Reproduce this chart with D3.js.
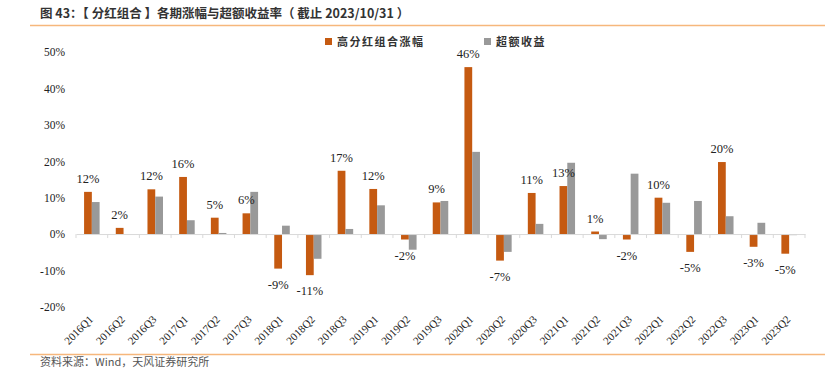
<!DOCTYPE html>
<html><head><meta charset="utf-8">
<script src="https://cdn.jsdelivr.net/npm/d3@7"></script>
<style>
html,body{margin:0;padding:0;background:#fff;}
svg{display:block;}
</style></head>
<body>
<svg id="chart" width="825" height="369"></svg>
<script>
const categories = ["2016Q1","2016Q2","2016Q3","2017Q1","2017Q2","2017Q3","2018Q1","2018Q2","2018Q3","2019Q1","2019Q2","2019Q3","2020Q1","2020Q2","2020Q3","2021Q1","2021Q2","2021Q3","2022Q1","2022Q2","2022Q3","2023Q1","2023Q2"];
const seriesNames = ["高分红组合涨幅","超额收益"];
const dividendReturn = [11.6,1.7,12.3,15.7,4.5,5.7,-9.5,-11.3,17.4,12.4,-1.5,8.7,45.9,-7.3,11.3,13.2,0.7,-1.5,10.0,-4.9,19.8,-3.5,-5.4];
const excessReturn = [8.8,0.0,10.3,3.8,0.3,11.6,2.3,-6.8,1.4,7.9,-4.3,9.1,22.6,-4.9,2.8,19.6,-1.4,16.6,8.6,9.1,4.9,3.1,-0.3];
const valueLabels = ["12%","2%","12%","16%","5%","6%","-9%","-11%","17%","12%","-2%","9%","46%","-7%","11%","13%","1%","-2%","10%","-5%","20%","-3%","-5%"];
const yTicks = [-20,-10,0,10,20,30,40,50];
const colors = ["#c55a11","#999999"];
const titleText = "图 43：【 分红组合 】各期涨幅与超额收益率（ 截止 2023/10/31 ）";
const sourceText = "资料来源：Wind，天风证券研究所";

const svg = d3.select("#chart");
const serif = "'Liberation Serif','Times New Roman',serif";
const cjk = "'Noto Sans CJK SC','Noto Sans',sans-serif";

// Title and rules
svg.append("text").attr("x",40).attr("y",18).attr("font-family",cjk).attr("font-weight","bold")
  .attr("font-size",12.5).attr("fill","#333").text(titleText);
svg.append("line").attr("x1",30).attr("x2",825).attr("y1",25.5).attr("y2",25.5).attr("stroke","#f6b77c").attr("stroke-width",1.3);
svg.append("line").attr("x1",30).attr("x2",825).attr("y1",354.5).attr("y2",354.5).attr("stroke","#f6b77c").attr("stroke-width",1.3);
svg.append("text").attr("x",40).attr("y",366).attr("font-family",cjk).attr("font-size",11).attr("fill","#555").text(sourceText);

// Scales
const x = d3.scaleBand().domain(categories).range([76,805]).padding(0);
const y = d3.scaleLinear().domain([-20,50]).range([306.8,52.2]);
const bw = x.bandwidth()*0.245;
const x1 = d3.scaleBand().domain(seriesNames).range([-bw, bw]);

// Y axis labels
const yAxis = d3.axisLeft(y).tickValues(yTicks).tickFormat(d=>d+"%").tickSize(0).tickPadding(0);
const ya = svg.append("g").attr("transform","translate(65,0)").call(yAxis);
ya.select(".domain").remove();
ya.selectAll("text").attr("font-family",serif).attr("font-size",11.5).attr("fill","#222");

// Bars
const series = [dividendReturn, excessReturn];
series.forEach((vals,si)=>{
  svg.append("g").selectAll("rect").data(vals).join("rect")
    .attr("x",(d,i)=>x(categories[i])+x.bandwidth()/2+x1(seriesNames[si]))
    .attr("width",x1.bandwidth())
    .attr("y",d=>y(Math.max(0,d)))
    .attr("height",d=>Math.abs(y(d)-y(0)))
    .attr("fill",colors[si]);
});

// X axis
const xAxis = d3.axisBottom(x).tickSize(0).tickFormat("");
const xa = svg.append("g").attr("transform",`translate(0,${y(0)})`).call(xAxis);
xa.select(".domain").attr("stroke","#d9d9d9");
const boundaries = categories.map((c)=>x(c)).concat([x.range()[1]]);
svg.append("g").selectAll("line").data(boundaries).join("line")
  .attr("x1",d=>d).attr("x2",d=>d).attr("y1",y(0)).attr("y2",y(0)+4)
  .attr("stroke","#d9d9d9");

// Category labels rotated
svg.append("g").selectAll("text").data(categories).join("text")
  .attr("transform",d=>`translate(${x(d)+x.bandwidth()/2+2},${y(0)+86}) rotate(-45)`)
  .attr("text-anchor","end")
  .attr("font-family",serif).attr("font-size",11).attr("fill","#222").text(d=>d);

// Value labels
svg.append("g").selectAll("text").data(dividendReturn).join("text")
  .attr("x",(d,i)=>x(categories[i])+x.bandwidth()/2+x1(seriesNames[0])+x1.bandwidth()/2)
  .attr("y",d=>d>=0 ? y(d)-9 : y(d)+20)
  .attr("text-anchor","middle")
  .attr("font-family",serif).attr("font-size",12.5).attr("fill","#222")
  .text((d,i)=>valueLabels[i]);

// Legend
const legend = svg.append("g");
const legendX = [325,484];
seriesNames.forEach((n,i)=>{
  legend.append("rect").attr("x",legendX[i]).attr("y",38).attr("width",7).attr("height",7).attr("fill",colors[i]);
  legend.append("text").attr("x",legendX[i]+12).attr("y",46).attr("font-family",cjk).attr("font-weight","bold")
    .attr("font-size",11).attr("letter-spacing",1.5).attr("fill","#333").text(n);
});
</script>
</body></html>
